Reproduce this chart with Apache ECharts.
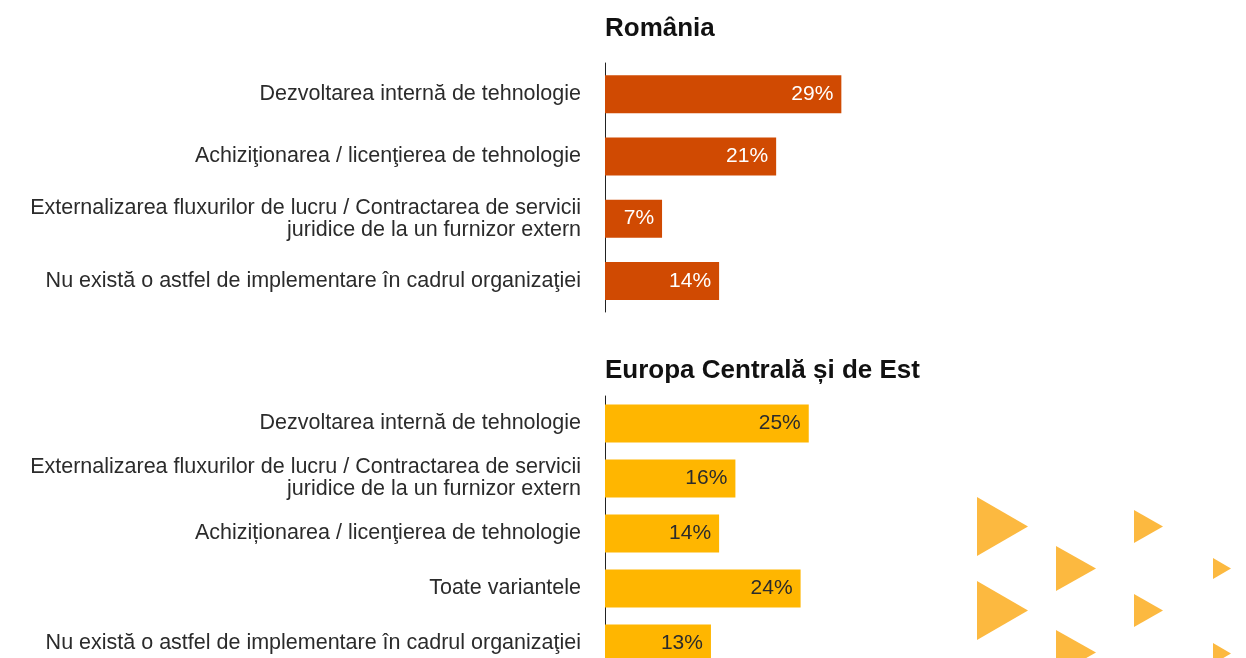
<!DOCTYPE html>
<html>
<head>
<meta charset="utf-8">
<script src="https://cdn.jsdelivr.net/npm/echarts@6/dist/echarts.min.js"></script>
<style>
html,body{margin:0;padding:0;background:#fff;}
#echarts{width:1246px;height:658px;}
</style>
</head>
<body>
<div id="echarts"></div>
<script>
// date
var roTitle='România';
var roCategories=[
    'Dezvoltarea internă de tehnologie',
    'Achiziţionarea / licenţierea de tehnologie',
    'Externalizarea fluxurilor de lucru / Contractarea de servicii\njuridice de la un furnizor extern',
    'Nu există o astfel de implementare în cadrul organizaţiei'
];
var roValues=[29,21,7,14];

var ceeTitle='Europa Centrală și de Est';
var ceeCategories=[
    'Dezvoltarea internă de tehnologie',
    'Externalizarea fluxurilor de lucru / Contractarea de servicii\njuridice de la un furnizor extern',
    'Achiziționarea / licenţierea de tehnologie',
    'Toate variantele',
    'Nu există o astfel de implementare în cadrul organizaţiei'
];
var ceeValues=[25,16,14,24,13];

var font='"Liberation Sans", Arial, sans-serif';

// triunghiuri decorative (colt dreapta jos)
function triangle(x,y,w,h){
    return {
        type:'polygon',
        shape:{points:[[x,y],[x+w,y+h/2],[x,y+h]]},
        style:{fill:'#FCB940'},
        silent:true
    };
}

var myChart=echarts.init(document.getElementById('echarts'));
var yAxisBase={
    type:'category',
    inverse:true,
    axisLine:{show:true,lineStyle:{color:'#222',width:1}},
    axisTick:{show:false},
    splitLine:{show:false},
    axisLabel:{
        margin:24,
        color:'#2b2b2b',
        fontSize:21.5,
        fontFamily:font,
        lineHeight:22,
        align:'right'
    }
};
var xAxisBase={
    type:'value',
    min:0,
    max:60,
    show:false
};
var titleStyle={fontSize:26,fontWeight:'bold',color:'#111',fontFamily:font};
var option={
    animation:false,
    title:[
        {text:roTitle,left:605,top:16,padding:0,textStyle:titleStyle},
        {text:ceeTitle,left:605,top:358,padding:0,textStyle:titleStyle}
    ],
    grid:[
        {left:605,top:63,width:489,height:249,outerBoundsMode:'none'},
        {left:605,top:396,width:489,height:275,outerBoundsMode:'none'}
    ],
    xAxis:[
        Object.assign({gridIndex:0},xAxisBase),
        Object.assign({gridIndex:1},xAxisBase)
    ],
    yAxis:[
        Object.assign({gridIndex:0,data:roCategories},yAxisBase),
        Object.assign({gridIndex:1,data:ceeCategories},yAxisBase)
    ],
    series:[
        {
            name:roTitle,
            type:'bar',
            xAxisIndex:0,
            yAxisIndex:0,
            barWidth:38,
            itemStyle:{color:'#D04A02'},
            label:{
                show:true,
                position:'insideRight',
                distance:8,
                color:'#fff',
                fontSize:21,
                fontFamily:font,
                formatter:'{c}%'
            },
            data:roValues
        },
        {
            name:ceeTitle,
            type:'bar',
            xAxisIndex:1,
            yAxisIndex:1,
            barWidth:38,
            itemStyle:{color:'#FFB600'},
            label:{
                show:true,
                position:'insideRight',
                distance:8,
                color:'#2b2b2b',
                fontSize:21,
                fontFamily:font,
                formatter:'{c}%'
            },
            data:ceeValues
        }
    ],
    graphic:[
        triangle(977,497,51,59),
        triangle(977,581,51,59),
        triangle(1056,546,40,45),
        triangle(1056,630,40,45),
        triangle(1134,510,29,33),
        triangle(1134,594,29,33),
        triangle(1213,558,18,21),
        triangle(1213,643,18,21)
    ]
};
myChart.setOption(option);
</script>
</body>
</html>
